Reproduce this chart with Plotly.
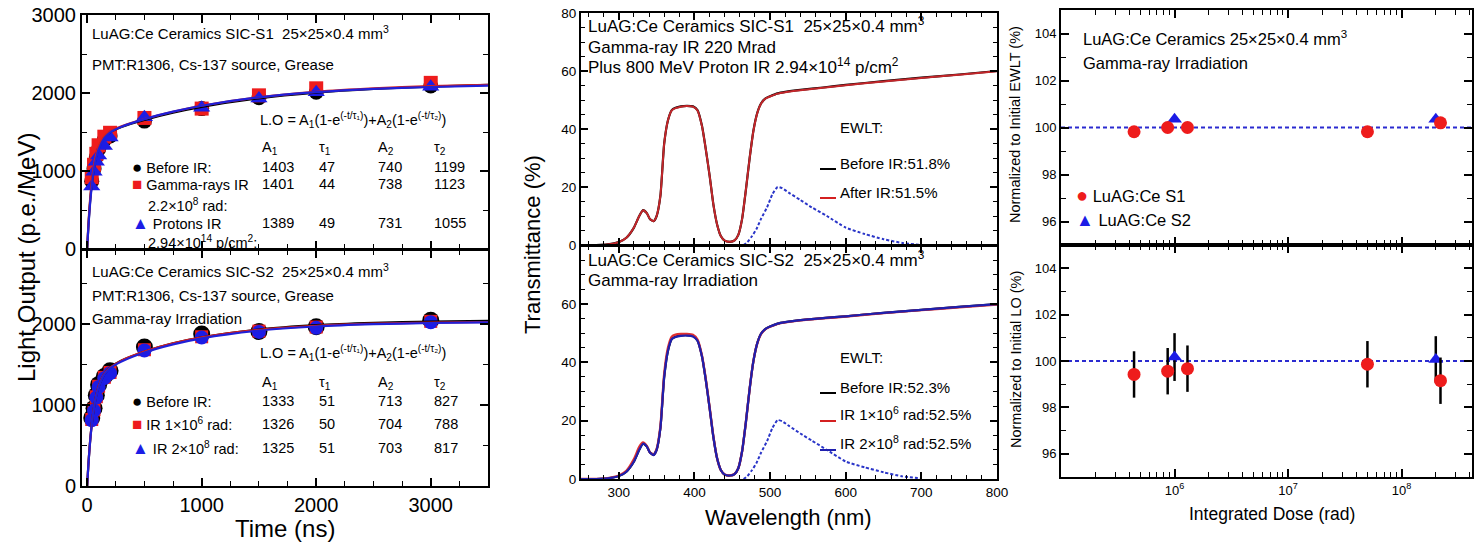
import plotly.graph_objects as go

# ---------------- data ----------------
# Left panels: light output vs integration time
lo_time = [40, 60, 80, 100, 150, 200, 500, 1000, 1500, 2000, 3000]
s1_before = [870, 1030, 1180, 1280, 1400, 1450, 1640, 1800, 1940, 2010, 2090]
s1_gamma = [920, 1080, 1220, 1330, 1440, 1490, 1680, 1800, 1970, 2060, 2130]
s1_proton = [800, 990, 1120, 1200, 1320, 1430, 1690, 1810, 1930, 2010, 2080]
s2_before = [840, 960, 1120, 1250, 1350, 1420, 1715, 1875, 1905, 1965, 2045]
s2_ir1e6 = [820, 940, 1100, 1230, 1340, 1400, 1680, 1840, 1910, 1960, 2030]
s2_ir2e8 = [810, 930, 1090, 1220, 1330, 1390, 1670, 1830, 1900, 1950, 2020]

fit_time = [0, 10, 20, 30, 40, 50, 70, 100, 150, 200, 300, 500, 750, 1000, 1500, 2000, 2500, 3000, 3500]
s1_fit_before = [0, 275, 498, 680, 828, 949, 1129, 1295, 1432, 1497, 1565, 1655, 1747, 1822, 1931, 2003, 2051, 2082, 2103]
s1_fit_gamma = [0, 292, 524, 713, 863, 983, 1160, 1319, 1447, 1506, 1572, 1666, 1760, 1836, 1945, 2015, 2059, 2088, 2106]
s1_fit_proton = [0, 263, 479, 656, 802, 922, 1103, 1275, 1420, 1492, 1566, 1665, 1761, 1837, 1944, 2010, 2052, 2077, 2094]
s2_fit_before = [0, 246, 449, 618, 759, 875, 1053, 1224, 1380, 1459, 1547, 1656, 1758, 1833, 1930, 1983, 2011, 2027, 2036]
s2_fit_ir1e6 = [0, 249, 455, 624, 765, 882, 1059, 1231, 1384, 1460, 1546, 1657, 1758, 1832, 1925, 1974, 2001, 2014, 2022]
s2_fit_ir2e8 = [0, 245, 447, 614, 753, 869, 1046, 1217, 1373, 1452, 1536, 1647, 1747, 1821, 1916, 1967, 1995, 2010, 2018]

s1_table = [["1403", "47", "740", "1199"], ["1401", "44", "738", "1123"], ["1389", "49", "731", "1055"]]
s2_table = [["1333", "51", "713", "827"], ["1326", "50", "704", "788"], ["1325", "51", "703", "817"]]

# Middle panels: transmittance spectra
wl = [250, 270, 285, 300, 310, 320, 327, 332, 337, 341, 346, 350, 355, 360, 365, 370, 375, 382, 390, 398,
      404, 410, 415, 420, 425, 430, 435, 440, 447, 453, 458, 463, 468, 473, 478, 483, 488, 494, 500, 510,
      520, 540, 570, 600, 650, 700, 750, 800]
t_s1_before = [0, 0, 0.2, 1, 2.5, 6, 10, 12, 11, 9, 8.2, 10, 17, 35, 43, 46.5, 47.3, 47.8, 48, 47.8,
               46.5, 41, 33, 24, 14, 7, 3, 1.5, 1.1, 1.6, 3.5, 9, 19, 30, 39.5, 45.5, 48.8, 50.6, 51.3, 52.3,
               52.8, 53.5, 54.3, 55.2, 56.5, 57.7, 58.8, 60]
t_s1_after = [0, 0, 0.2, 1, 2.5, 6, 10, 12, 11, 9, 8.2, 10, 17, 35, 43, 46.4, 47.2, 47.7, 47.9, 47.7,
              46.4, 40.9, 33, 24, 14, 7, 3, 1.5, 1.1, 1.6, 3.5, 9, 19, 30, 39.4, 45.4, 48.7, 50.5, 51.2, 52.2,
              52.7, 53.4, 54.2, 55.1, 56.4, 57.6, 58.7, 59.9]
t_s2_before = [0, 0, 0.2, 1, 2.5, 6, 10, 12.2, 11.2, 9.2, 8.3, 10, 17.5, 35, 44, 48, 48.8, 49.2, 49.3, 49,
               47.5, 42, 34, 24.5, 14.5, 7, 3, 1.5, 1.2, 1.7, 3.7, 9.5, 19.5, 31, 40.5, 46.5, 49.8, 51.5, 52.3, 53.3,
               53.8, 54.5, 55.2, 55.8, 57, 58, 59, 60]
t_s2_ir1e6 = [0, 0, 0.3, 1.2, 2.8, 6.8, 11, 12.5, 11.3, 9.2, 8.3, 10.2, 18, 36, 45, 48.8, 49.5, 49.7, 49.7, 49.4,
              47.8, 42.2, 34.2, 24.6, 14.6, 7, 3, 1.5, 1.2, 1.7, 3.7, 9.5, 19.5, 31, 40.5, 46.5, 49.7, 51.4, 52.2, 53.2,
              53.7, 54.4, 55.1, 55.7, 56.9, 57.9, 58.9, 59.8]
t_s2_ir2e8 = [0, 0, 0.2, 1, 2.5, 6, 10, 12.1, 11.1, 9.1, 8.2, 10, 17.5, 35, 44, 48, 48.7, 49.1, 49.2, 48.9,
              47.4, 41.9, 33.9, 24.4, 14.4, 7, 3, 1.5, 1.2, 1.7, 3.7, 9.5, 19.5, 31, 40.5, 46.5, 49.8, 51.5, 52.3, 53.3,
              53.8, 54.5, 55.2, 55.8, 57, 58, 59, 60]
em_wl = [465, 470, 476, 482, 488, 496, 503, 510, 516, 525, 540, 555, 575, 600, 625, 650, 675, 700]
em_s1 = [0, 1, 3, 5.5, 9, 13, 17.5, 20, 19.6, 18, 15.5, 13, 10, 6, 3.8, 2, 0.7, 0]
em_s2 = [0, 1, 3, 5.5, 9, 13, 17.5, 20.2, 19.8, 18.2, 15.6, 13.2, 10, 6, 4, 2.3, 0.9, 0.2]

# Right panels: normalized EWLT and LO vs integrated dose
dose_s1 = [4.4e5, 8.7e5, 1.3e6, 5.0e7, 2.2e8]
ewlt_s1 = [99.82, 100.0, 100.0, 99.82, 100.2]
lo_s1 = [99.42, 99.56, 99.67, 99.86, 99.15]
lo_s1_err = [1.0, 1.0, 1.0, 1.0, 1.0]
dose_s2 = [1.0e6, 2.0e8]
ewlt_s2 = [100.35, 100.35]
lo_s2 = [100.17, 100.07]
lo_s2_err = [1.03, 1.0]
reference_level = 100

# ---------------- styling ----------------
FONT = "Liberation Sans, Arial, sans-serif"
W, H = 1474, 545
BLACK = "#000000"
RED = "#ee1c1c"
BLUE = "#1c1ce6"
LRED = "#d42020"
LBLUE = "#2020d8"
DRED = "#c3262a"
NAVY = "#1f1fae"


def px(x):
    return x / W


def py(y):
    return 1 - y / H


fig = go.Figure()

# ---- left top ----
fig.add_trace(go.Scatter(x=lo_time, y=s1_before, mode="markers", xaxis="x", yaxis="y",
                         marker=dict(symbol="circle", size=15, color=BLACK)))
fig.add_trace(go.Scatter(x=lo_time, y=s1_gamma, mode="markers", xaxis="x", yaxis="y",
                         marker=dict(symbol="square", size=14, color=RED)))
fig.add_trace(go.Scatter(x=lo_time, y=s1_proton, mode="markers", xaxis="x", yaxis="y",
                         marker=dict(symbol="triangle-up", size=15, color=BLUE)))
for ys, c in [(s1_fit_before, BLACK), (s1_fit_gamma, LRED), (s1_fit_proton, LBLUE)]:
    fig.add_trace(go.Scatter(x=fit_time, y=ys, mode="lines", xaxis="x", yaxis="y",
                             line=dict(color=c, width=2.2, shape="spline", smoothing=0.6)))

# ---- left bottom ----
fig.add_trace(go.Scatter(x=lo_time, y=s2_before, mode="markers", xaxis="x2", yaxis="y2",
                         marker=dict(symbol="circle", size=17, color=BLACK)))
fig.add_trace(go.Scatter(x=lo_time, y=s2_ir1e6, mode="markers", xaxis="x2", yaxis="y2",
                         marker=dict(symbol="square", size=13, color=RED)))
fig.add_trace(go.Scatter(x=lo_time, y=s2_ir2e8, mode="markers", xaxis="x2", yaxis="y2",
                         marker=dict(symbol="circle", size=14, color=BLUE)))
for ys, c in [(s2_fit_before, BLACK), (s2_fit_ir1e6, LRED), (s2_fit_ir2e8, LBLUE)]:
    fig.add_trace(go.Scatter(x=fit_time, y=ys, mode="lines", xaxis="x2", yaxis="y2",
                             line=dict(color=c, width=2.2, shape="spline", smoothing=0.6)))

# ---- middle top ----
fig.add_trace(go.Scatter(x=wl, y=t_s1_before, mode="lines", xaxis="x3", yaxis="y3",
                         line=dict(color=BLACK, width=2.2, shape="spline", smoothing=0.5)))
fig.add_trace(go.Scatter(x=wl, y=t_s1_after, mode="lines", xaxis="x3", yaxis="y3",
                         line=dict(color=DRED, width=2, shape="spline", smoothing=0.5)))
fig.add_trace(go.Scatter(x=em_wl, y=em_s1, mode="lines", xaxis="x3", yaxis="y3",
                         line=dict(color="#2a35c8", width=2, dash="3px,2px", shape="spline", smoothing=0.5)))

# ---- middle bottom ----
fig.add_trace(go.Scatter(x=wl, y=t_s2_before, mode="lines", xaxis="x4", yaxis="y4",
                         line=dict(color=BLACK, width=2.2, shape="spline", smoothing=0.5)))
fig.add_trace(go.Scatter(x=wl, y=t_s2_ir1e6, mode="lines", xaxis="x4", yaxis="y4",
                         line=dict(color="#e03030", width=2.4, shape="spline", smoothing=0.5)))
fig.add_trace(go.Scatter(x=wl, y=t_s2_ir2e8, mode="lines", xaxis="x4", yaxis="y4",
                         line=dict(color=NAVY, width=2.2, shape="spline", smoothing=0.5)))
fig.add_trace(go.Scatter(x=em_wl, y=em_s2, mode="lines", xaxis="x4", yaxis="y4",
                         line=dict(color="#2a35c8", width=2, dash="3px,2px", shape="spline", smoothing=0.5)))

# ---- right top ----
fig.add_trace(go.Scatter(x=dose_s2, y=ewlt_s2, mode="markers", xaxis="x5", yaxis="y5",
                         marker=dict(symbol="triangle-up", size=13, color=BLUE)))
fig.add_trace(go.Scatter(x=dose_s1, y=ewlt_s1, mode="markers", xaxis="x5", yaxis="y5",
                         marker=dict(symbol="circle", size=13, color=RED)))

# ---- right bottom ----
fig.add_trace(go.Scatter(x=dose_s2, y=lo_s2, mode="markers", xaxis="x6", yaxis="y6",
                         error_y=dict(type="data", array=lo_s2_err, color=BLACK, thickness=2.5, width=0),
                         marker=dict(symbol="triangle-up", size=13, color=BLUE)))
fig.add_trace(go.Scatter(x=dose_s1, y=lo_s1, mode="markers", xaxis="x6", yaxis="y6",
                         error_y=dict(type="data", array=lo_s1_err, color=BLACK, thickness=2.5, width=0),
                         marker=dict(symbol="circle", size=13, color=RED)))


def axis(domain, anchor, rng, dtick=None, minor=None, ticklen=8, minorlen=5, labels=True,
         size=13, lw=2, **kw):
    d = dict(domain=domain, anchor=anchor, range=rng, showline=True, linecolor=BLACK, linewidth=lw,
             mirror="ticks", ticks="inside", ticklen=ticklen, tickwidth=1.5, tickcolor=BLACK,
             showgrid=False, zeroline=False, showticklabels=labels, automargin=False,
             tickfont=dict(family=FONT, size=size, color=BLACK))
    if dtick is not None:
        d["dtick"] = dtick
        d["tick0"] = 0
    if minor is not None:
        d["minor"] = dict(dtick=minor, ticks="inside", ticklen=minorlen, tickwidth=1.2,
                          tickcolor=BLACK, showgrid=False)
    d.update(kw)
    return d


lx = [px(82), px(488)]
mx = [px(581), px(997)]
rx = [px(1061), px(1472)]

decades = [1e6, 1e7, 1e8]
minor_log = [m * 10 ** e for e in range(5, 9) for m in range(2, 10)]

layout = dict(
    width=W, height=H, autosize=False,
    margin=dict(l=0, r=0, t=0, b=0, pad=0, autoexpand=False),
    paper_bgcolor="white", plot_bgcolor="white", showlegend=False,
    font=dict(family=FONT, color=BLACK),
    xaxis=axis(lx, "y", [-45, 3500], 1000, 250, labels=False, size=20),
    yaxis=axis([py(249), py(15)], "x", [0, 3000], 1000, 500, size=20),
    xaxis2=axis(lx, "y2", [-45, 3500], 1000, 250, size=20),
    yaxis2=axis([py(486), py(250)], "x2", [0, 2910], 1000, 500, size=20),
    xaxis3=axis(mx, "y3", [250, 800], 100, 20, ticklen=7, minorlen=4, labels=False, size=13.5),
    yaxis3=axis([py(245), py(13)], "x3", [0, 80], 20, 5, ticklen=7, minorlen=4, size=13.5),
    xaxis4=axis(mx, "y4", [250, 800], 100, 20, ticklen=7, minorlen=4, size=13.5),
    yaxis4=axis([py(479), py(246)], "x4", [0, 79.9], 20, 5, ticklen=7, minorlen=4, size=13.5),
    xaxis5=axis(rx, "y5", [5, 8.62], labels=False, type="log", tickmode="array",
                tickvals=decades, ticktext=["10<sup>6</sup>", "10<sup>7</sup>", "10<sup>8</sup>"]),
    yaxis5=axis([py(245), py(10)], "x5", [95, 105], 2, 1),
    xaxis6=axis(rx, "y6", [5, 8.62], type="log", tickmode="array",
                tickvals=decades, ticktext=["10<sup>6</sup>", "10<sup>7</sup>", "10<sup>8</sup>"]),
    yaxis6=axis([py(477), py(245)], "x6", [95, 105], 2, 1),
)
layout["xaxis5"]["minor"] = dict(tickvals=minor_log, ticks="inside", ticklen=5, tickwidth=1.2, tickcolor=BLACK)
layout["xaxis6"]["minor"] = dict(tickvals=minor_log, ticks="inside", ticklen=5, tickwidth=1.2, tickcolor=BLACK)

shapes = []
for xr, yr in [("x5", "y5"), ("x6", "y6")]:
    shapes.append(dict(type="line", xref=f"{xr} domain", yref=yr, x0=0, x1=1,
                       y0=reference_level, y1=reference_level,
                       line=dict(color="#2b2bd0", width=2, dash="4px,3px"), layer="below"))


def key_line(y, color):
    # short legend key segment for the EWLT notes
    shapes.append(dict(type="line", xref="paper", yref="paper", x0=px(820), x1=px(836),
                       y0=py(y + 6), y1=py(y + 6), line=dict(color=color, width=2)))


key_line(163, BLACK)
key_line(192, "#d42020")
key_line(387, BLACK)
key_line(415, "#d42020")
key_line(444, NAVY)
layout["shapes"] = shapes

ann = []


def note(text, x, y, size, color=BLACK, xanchor="left", angle=0):
    ann.append(dict(text=text, x=px(x), y=py(y), xref="paper", yref="paper", xanchor=xanchor,
                    yanchor="middle", showarrow=False, textangle=angle,
                    font=dict(family=FONT, size=size, color=color)))


NB = "\u00a0"
dims = f"25×25×0.4{NB}mm<sup>3</sup>"


def sym(ch, c, fs=17):
    return f"<span style='color:{c};font-size:{fs}px'>{ch}</span>"


# left top texts
note(f"LuAG:Ce Ceramics SIC-S1{NB}{NB}{dims}", 90, 33, 15)
note("PMT:R1306, Cs-137 source, Grease", 90, 64, 15)
formula = "L.O = A<sub>1</sub>(1-e<sup>(-t/τ₁)</sup>)+A<sub>2</sub>(1-e<sup>(-t/τ₂)</sup>)"
cols = [260, 317, 376, 432]
heads = ["A<sub>1</sub>", "τ<sub>1</sub>", "A<sub>2</sub>", "τ<sub>2</sub>"]
note(formula, 258, 120, 14.5)
for cx, h in zip(cols, heads):
    note(h, cx, 148, 14.5)
for row, yy in zip(s1_table, [167, 184, 223]):
    for cx, v in zip(cols, row):
        note(v, cx, yy, 14.5)
note(sym("●", BLACK) + " Before IR:", 130, 167, 14.5)
note(sym("■", RED) + " Gamma-rays IR", 130, 184, 14.5)
note("2.2×10<sup>8</sup> rad:", 146, 205, 14.5)
note(sym("▲", BLUE) + " Protons IR", 130, 223, 14.5)
note("2.94×10<sup>14</sup> p/cm<sup>2</sup>:", 146, 242, 14.5)

# left bottom texts
note(f"LuAG:Ce Ceramics SIC-S2{NB}{NB}{dims}", 90, 270, 15)
note("PMT:R1306, Cs-137 source, Grease", 90, 295, 15)
note("Gamma-ray Irradiation", 90, 318, 15)
note(formula, 258, 353, 14.5)
for cx, h in zip(cols, heads):
    note(h, cx, 383, 14.5)
for row, yy in zip(s2_table, [401, 424, 448]):
    for cx, v in zip(cols, row):
        note(v, cx, yy, 14.5)
note(sym("●", BLACK) + " Before IR:", 130, 401, 14.5)
note(sym("■", RED) + " IR 1×10<sup>6</sup> rad:", 130, 424, 14.5)
note(sym("▲", BLUE) + " IR 2×10<sup>8</sup> rad:", 130, 448, 14.5)

note("Light Output (p.e./MeV)", 26, 258, 24, angle=-90, xanchor="center")
note("Time (ns)", 285, 528, 24, xanchor="center")

# middle texts
note(f"LuAG:Ce Ceramics SIC-S1{NB}{NB}{dims}", 586, 25, 17)
note("Gamma-ray IR 220 Mrad", 586, 47, 17)
note("Plus 800 MeV Proton IR 2.94×10<sup>14</sup> p/cm<sup>2</sup>", 586, 66, 17)
note("EWLT:", 838, 127, 15)
note("Before IR:51.8%", 838, 163, 15)
note("After IR:51.5%", 838, 192, 15)

note(f"LuAG:Ce Ceramics SIC-S2{NB}{NB}{dims}", 586, 259, 17)
note("Gamma-ray Irradiation", 586, 280, 17)
note("EWLT:", 838, 357, 15)
note("Before IR:52.3%", 838, 387, 15)
note("IR 1×10<sup>6</sup> rad:52.5%", 838, 413, 15)
note("IR 2×10<sup>8</sup> rad:52.5%", 838, 442, 15)

note("Transmittance (%)", 533, 245, 22, angle=-90, xanchor="center")
note("Wavelength (nm)", 789, 517, 22, xanchor="center")

# right texts
note(f"LuAG:Ce Ceramics {dims}", 1081, 38, 16.5)
note("Gamma-ray Irradiation", 1081, 63, 16.5)
note(sym("●", RED, 20) + " LuAG:Ce S1", 1074, 195, 16.5)
note(sym("▲", BLUE, 18) + " LuAG:Ce S2", 1074, 220, 16.5)
note("Normalized to Initial EWLT (%)", 1015, 125, 14.5, angle=-90, xanchor="center")
note("Normalized to Initial LO (%)", 1016, 360, 14.5, angle=-90, xanchor="center")
note("Integrated Dose (rad)", 1272, 514, 17.5, xanchor="center")

layout["annotations"] = ann
fig.update_layout(**layout)
fig.write_html("out.html")
